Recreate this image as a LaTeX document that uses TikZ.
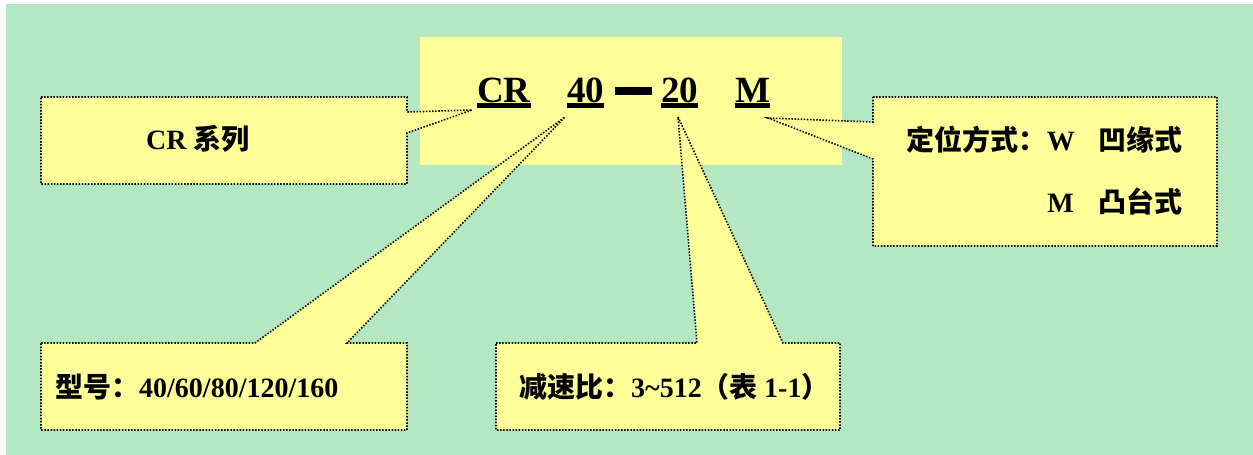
\documentclass[tikz,border=0pt]{standalone}
\usepackage{fontspec}
\setmainfont{Liberation Serif}
\newfontfamily\cjk{Noto Sans CJK SC}
\definecolor{bggreen}{RGB}{179,232,194}
\definecolor{callyellow}{RGB}{255,255,153}
\tikzset{
  callout/.style={fill=callyellow, draw=black, line width=1.6pt, dash pattern=on 1.5pt off 1.6pt},
  titletext/.style={inner sep=0pt, anchor=base west, font=\fontsize{37}{40}\selectfont\bfseries},
  boxtext/.style={inner sep=0pt, font=\fontsize{28}{32}\selectfont\bfseries},
  ul/.style={line width=4.5pt}
}
\begin{document}
\begin{tikzpicture}[x=1pt,y=-1pt]
\useasboundingbox (0,0) rectangle (1253,455);
\fill[white] (0,0) rectangle (1253,455);
\fill[bggreen] (6,4) rectangle (1253,455);
% title box
\fill[callyellow] (420,37) rectangle (842,165);
% pointer tips
\coordinate (tipcr) at (472,110);
\coordinate (tip40) at (565,117);
\coordinate (tip20) at (678,117);
\coordinate (tipm) at (768,118);
% callouts
\draw[callout] (41,97) -- (407,97) -- (407,112) -- (tipcr) -- (407,133) -- (407,184) -- (41,184) -- cycle;
\draw[callout] (873,97) -- (1217,97) -- (1217,246) -- (873,246) -- (873,159) -- (tipm) -- (873,122) -- cycle;
\draw[callout] (41,343) -- (255,343) -- (tip40) -- (347,343) -- (407,343) -- (407,430) -- (41,430) -- cycle;
\draw[callout] (496,343) -- (697,343) -- (tip20) -- (783,343) -- (840,343) -- (840,430) -- (496,430) -- cycle;
% title text
\node[titletext] (cr) at (477,102) {CR};
\node[titletext] (n40) at (567,102) {40};
\node[inner sep=0pt, anchor=north west] (dash) at (615,87) {\rule{37pt}{8pt}};
\node[titletext] (n20) at (661,102) {20};
\node[titletext] (m) at (735,102) {M};
\foreach \n in {cr,n40,n20,m}
  \draw[ul] ([yshift=-3.5pt]\n.base west) -- ([yshift=-3.5pt]\n.base east);
% box texts
\node[boxtext, anchor=base west] (series) at (146,149) {CR {\cjk\bfseries 系列}};
\node[boxtext, anchor=base east] (pos1) at (1183,150) {{\cjk\bfseries 定位方式：}W\hspace{24pt}{\cjk\bfseries 凹缘式}};
\node[boxtext, anchor=base east] (pos2) at (1183,212) {M\hspace{25pt}{\cjk\bfseries 凸台式}};
\node[boxtext, anchor=base west] (model) at (55,397) {{\cjk\bfseries 型号：}40/60/80/120/160};
\node[boxtext, anchor=base west] (ratio) at (519,397) {{\cjk\bfseries 减速比：}3\textasciitilde512{\cjk\bfseries （表 }1-1{\cjk\bfseries ）}};
\end{tikzpicture}
\end{document}
